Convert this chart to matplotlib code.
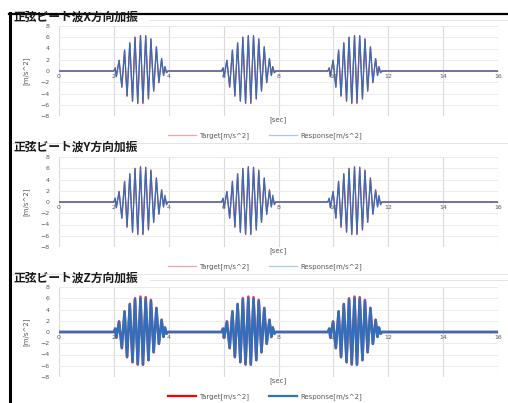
import matplotlib
matplotlib.use("Agg")
import matplotlib.pyplot as plt
from matplotlib.lines import Line2D

TITLES = ["正弦ビート波X方向加振", "正弦ビート波Y方向加振", "正弦ビート波Z方向加振"]
X_TICKS = [0, 2, 4, 6, 8, 10, 12, 14, 16]
Y_TICKS = [-8, -6, -4, -2, 0, 2, 4, 6, 8]

# start time of each beat burst [sec]
BURST_STARTS = [2.0, 5.93, 9.80]
# times of the extrema inside one burst, relative to its start [sec]
PEAK_OFFSETS = [0.00, 0.05, 0.09, 0.19, 0.29, 0.39, 0.48, 0.58, 0.68, 0.77,
                0.87, 0.97, 1.06, 1.16, 1.26, 1.35, 1.45, 1.55, 1.64, 1.74,
                1.81, 1.86, 1.92, 1.97]
# extrema values [m/s^2]
TARGET_PEAKS = [0.0, 0.6, -1.0, 1.9, -2.9, 3.7, -4.5, 5.0, -5.4, 6.0,
                -5.8, 6.3, -5.8, 6.2, -5.0, 5.7, -3.6, 4.3, -2.1, 2.2,
                -0.8, 0.8, -0.3, 0.0]
RESPONSE_X = [0.0, 0.5, -1.0, 1.9, -2.8, 3.7, -4.4, 5.0, -5.3, 6.0,
              -5.7, 6.3, -5.6, 6.3, -4.9, 5.7, -3.5, 4.3, -2.0, 2.2,
              -0.8, 0.7, -0.3, 0.0]
RESPONSE_Y = [0.0, 0.7, -1.0, 1.8, -2.8, 3.6, -4.4, 5.0, -5.3, 5.9,
              -5.7, 6.2, -5.7, 6.1, -4.9, 5.6, -3.6, 4.2, -2.2, 2.0,
              -0.9, 1.2, -0.5, 0.0]
RESPONSE_Z = [0.0, 0.6, -1.0, 1.8, -2.8, 3.6, -4.4, 4.9, -5.3, 5.8,
              -5.7, 6.0, -5.8, 5.9, -5.0, 5.5, -3.6, 4.2, -2.1, 2.1,
              -0.9, 0.8, -0.3, 0.0]
RESPONSES = [RESPONSE_X, RESPONSE_Y, RESPONSE_Z]

LEGEND_LABELS = ["Target[m/s^2]", "Response[m/s^2]"]
GRAY = "#595959"
JP_FONT = ["Noto Sans CJK JP", "DejaVu Sans"]


def build_series(values):
    """Zero baseline with the burst extrema inserted at each burst start."""
    t, y = [0.0], [0.0]
    for start in BURST_STARTS:
        t += [start + dt for dt in PEAK_OFFSETS]
        y += list(values)
    t.append(16.0)
    y.append(0.0)
    return t, y


W, H = 508, 403
fig = plt.figure(figsize=(W / 100, H / 100), dpi=100)
fig.patch.set_facecolor("white")

# axes boxes in pixels: (top of plot area, title y)
panels = [(26, 17), (157, 147), (287, 278)]
ax_left, ax_right, ax_h = 59, 498, 90

for i, (top, title_y) in enumerate(panels):
    ax = fig.add_axes([ax_left / W, 1 - (top + ax_h) / H,
                       (ax_right - ax_left) / W, ax_h / H])
    ax.set_xlim(0, 16)
    ax.set_ylim(-8, 8)
    ax.set_xticks(X_TICKS)
    ax.set_yticks(Y_TICKS)
    ax.grid(axis="y", color="#ebebeb", lw=0.7)
    ax.grid(axis="x", color="#d9d9d9", lw=0.8)
    ax.set_axisbelow(True)
    for side in ["top", "right", "left"]:
        ax.spines[side].set_visible(False)
    ax.spines["bottom"].set_position(("data", 0))
    ax.spines["bottom"].set_color("#d9d9d9")
    ax.tick_params(length=0, labelsize=4.5, colors=GRAY)
    ax.tick_params(axis="x", pad=2)
    ax.tick_params(axis="y", pad=7)
    ax.set_ylabel("[m/s^2]", fontsize=5, color=GRAY, labelpad=8)

    thick = i == 2
    t_t, y_t = build_series(TARGET_PEAKS)
    t_r, y_r = build_series(RESPONSES[i])
    ax.plot(t_t, y_t, color="#e83a3a", lw=1.8 if thick else 0.9, zorder=3)
    ax.plot(t_r, y_r, color="#2f6fbd", lw=1.8 if thick else 0.9, zorder=4)

    ax.text(0.5, -0.045, "[sec]", transform=ax.transAxes, ha="center",
            va="center", fontsize=5, color=GRAY)

    if thick:
        handles = [Line2D([], [], color="#ff0000", lw=1.6),
                   Line2D([], [], color="#2e75b6", lw=1.6)]
    else:
        handles = [Line2D([], [], color="#f4a3a3", lw=0.9),
                   Line2D([], [], color="#a9c9e8", lw=0.9)]
    leg = ax.legend(handles, LEGEND_LABELS, loc="center",
                    bbox_to_anchor=(0.469, -0.222), ncol=2, frameon=False,
                    fontsize=5, handlelength=4, columnspacing=3,
                    handletextpad=0.4)
    for txt in leg.get_texts():
        txt.set_color(GRAY)

    fig.text(13 / W, 1 - title_y / H, TITLES[i], family=JP_FONT,
             fontweight="bold", fontsize=8.5, ha="left", va="center",
             color="#1a1a1a")

# light chart borders
for y_px, x0 in [(20, 150), (143, 12), (274, 12), (280, 150)]:
    fig.add_artist(Line2D([x0 / W, 1], [1 - y_px / H] * 2,
                          transform=fig.transFigure, color="#e4e4e4", lw=0.7))

# black frame of the screenshot
fig.add_artist(Line2D([10 / W, 10 / W], [1 - 13 / H, 0],
                      transform=fig.transFigure, color="black", lw=2.2))
fig.add_artist(Line2D([9 / W, 1], [1 - 13.5 / H] * 2,
                      transform=fig.transFigure, color="black", lw=1.6))

fig.savefig("out.png", dpi=100)
